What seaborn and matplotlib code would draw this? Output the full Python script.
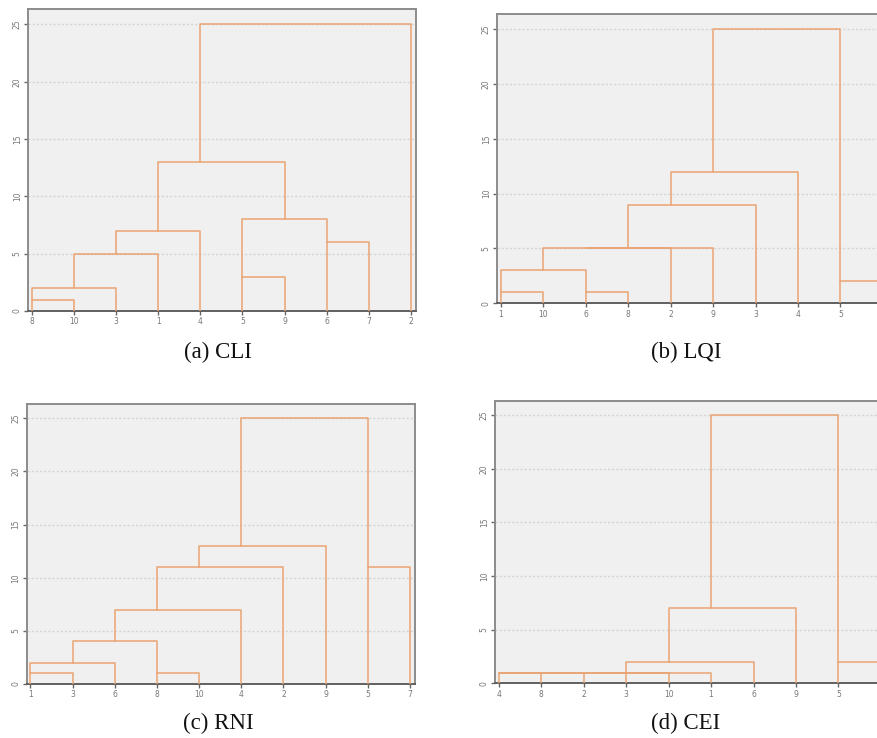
import numpy as np
import pandas as pd
import matplotlib
matplotlib.use("Agg")
import matplotlib.pyplot as plt
import seaborn as sns

# leaf order (x tick labels) and merges (child, child, rescaled distance)
# "mK" = result of the K-th merge
cli_leaves = ["8", "10", "3", "1", "4", "5", "9", "6", "7", "2"]
cli_merges = [("8", "10", 1), ("m0", "3", 2), ("m1", "1", 5), ("m2", "4", 7),
              ("5", "9", 3), ("6", "7", 6), ("m4", "m5", 8), ("m3", "m6", 13),
              ("m7", "2", 25)]

lqi_leaves = ["1", "10", "6", "8", "2", "9", "3", "4", "5", "7"]
lqi_merges = [("1", "10", 1), ("6", "8", 1), ("m0", "m1", 3), ("m2", "2", 5),
              ("m3", "9", 5), ("m4", "3", 9), ("m5", "4", 12), ("5", "7", 2),
              ("m6", "m7", 25)]

rni_leaves = ["1", "3", "6", "8", "10", "4", "2", "9", "5", "7"]
rni_merges = [("1", "3", 1), ("m0", "6", 2), ("8", "10", 1), ("m1", "m2", 4),
              ("m3", "4", 7), ("m4", "2", 11), ("m5", "9", 13), ("5", "7", 11),
              ("m6", "m7", 25)]

cei_leaves = ["4", "8", "2", "3", "10", "1", "6", "9", "5", "7"]
cei_merges = [("4", "8", 1), ("m0", "2", 1), ("3", "10", 1), ("m1", "m2", 1),
              ("m3", "1", 1), ("m4", "6", 2), ("m5", "9", 7), ("5", "7", 2),
              ("m6", "m7", 25)]

captions = ["(a) CLI", "(b) LQI", "(c) RNI", "(d) CEI"]


def dendro_segments(leaves, merges):
    # SPSS style: joined cluster sits at floor of the children's mean position
    pos = {lab: i for i, lab in enumerate(leaves)}
    hgt = {lab: 0.0 for lab in leaves}
    rows = []
    for k, (a, b, h) in enumerate(merges):
        xa, xb = pos[a], pos[b]
        for x, y in [(xa, hgt[a]), (xa, h), (xb, h), (xb, hgt[b])]:
            rows.append({"seg": k, "x": x, "y": y})
        pos["m%d" % k] = int(np.floor((xa + xb) / 2))
        hgt["m%d" % k] = h
    return pd.DataFrame(rows)


fig = plt.figure(figsize=(8.77, 7.38), dpi=100)
boxes = [[0.0319, 0.5786, 0.4424, 0.4092],
         [0.5667, 0.5890, 0.4458, 0.3916],
         [0.0304, 0.0732, 0.4428, 0.3794],
         [0.5644, 0.0741, 0.4458, 0.3830]]
cap_xy = [(218, 352), (686, 352), (218, 723), (686, 723)]
panels = [(cli_leaves, cli_merges), (lqi_leaves, lqi_merges),
          (rni_leaves, rni_merges), (cei_leaves, cei_merges)]

line_col = "#e9a472"
for i, (leaves, merges) in enumerate(panels):
    ax = fig.add_axes(boxes[i])
    ax.set_facecolor("#f0f0f0")
    df = dendro_segments(leaves, merges)
    sns.lineplot(data=df, x="x", y="y", units="seg", estimator=None, sort=False,
                 color=line_col, lw=1.1, ax=ax, zorder=3)
    ax.set_xlim(-0.09, 9.12)
    ax.set_ylim(0, 26.35)
    ax.set_yticks([0, 5, 10, 15, 20, 25])
    ax.set_yticklabels(["0", "5", "10", "15", "20", "25"], rotation=90, va="center")
    ax.set_xticks(range(len(leaves)))
    ax.set_xticklabels(leaves)
    ax.grid(axis="y", color="#d4d4d4", ls=(0, (1.5, 1.5)), lw=1.0, zorder=1)
    ax.grid(axis="x", visible=False)
    ax.tick_params(axis="both", length=3, width=1, color="#666666",
                   labelcolor="#777777", labelsize=5.5, pad=1.5)
    for s in ax.spines.values():
        s.set_color("#8c8c8c")
        s.set_linewidth(1.4)
    ax.spines["bottom"].set_color("#606060")
    ax.set_xlabel("")
    ax.set_ylabel("")
    # right-hand panels run past the page edge, so the last leaf label is not shown
    if boxes[i][0] + boxes[i][2] > 1.0:
        ax.get_xticklabels()[-1].set_visible(False)
    fig.text(cap_xy[i][0] / 877, 1 - cap_xy[i][1] / 738, captions[i],
             ha="center", va="center", fontsize=16.5, family="Liberation Serif",
             color="#111111")

fig.savefig("out.png", dpi=100)
